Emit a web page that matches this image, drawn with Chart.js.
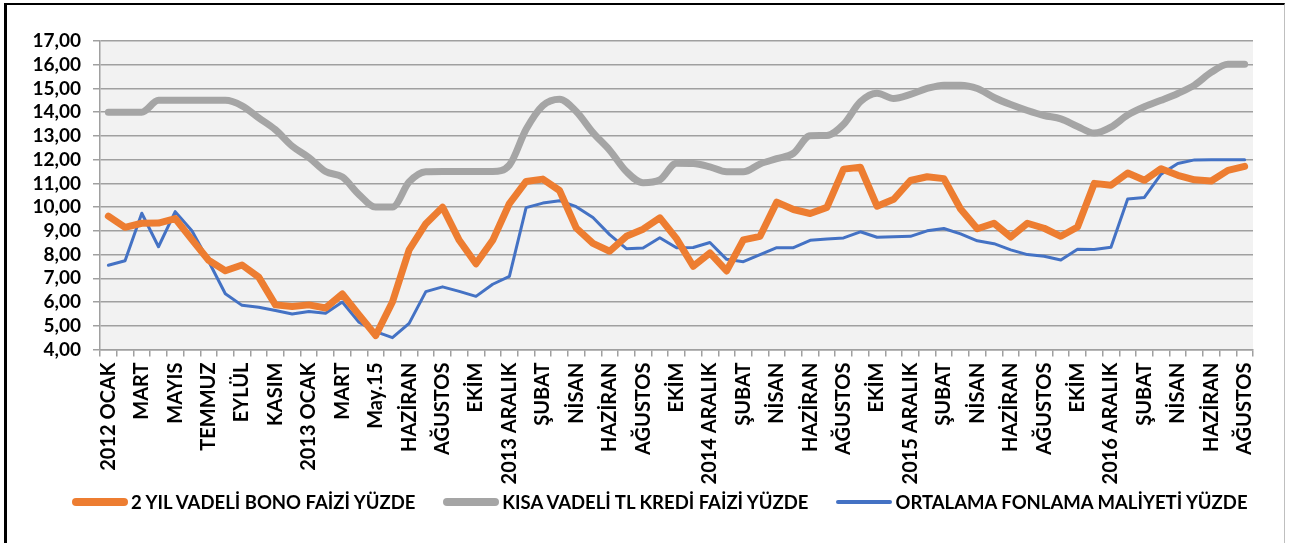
<!DOCTYPE html>
<html>
<head>
<meta charset="utf-8">
<script src="https://cdn.jsdelivr.net/npm/chart.js@4/dist/chart.umd.min.js"></script>
<style>
  html, body { margin: 0; padding: 0; background: #fff; }
  #wrap { position: relative; width: 1290px; height: 543px; overflow: hidden; background: #fff; }
  #frame { position: absolute; left: 4px; top: 3px; width: 1281px; height: 560px;
           border-left: 3px solid #000; border-top: 2px solid #000; border-right: 1px solid #bfbfbf; box-sizing: border-box; pointer-events: none; }
  canvas { position: absolute; left: 0; top: 0; }
  #legend { position: absolute; left: 72px; top: 490px; height: 24px; display: flex; align-items: center;
            font-family: Lato, "Open Sans", sans-serif; font-weight: bold; font-size: 18.5px; color: #000; white-space: nowrap; }
  .item { display: flex; align-items: center; margin-right: 28px; }
  .swatch { width: 56px; border-radius: 4px; margin-right: 3px; }
</style>
</head>
<body>
<div id="wrap">
  <canvas id="c" width="1290" height="543"></canvas>
  <div id="legend"></div>
  <div id="frame"></div>
</div>
<script>
const categories = [
  '2012 OCAK','ŞUBAT','MART','NİSAN','MAYIS','HAZİRAN','TEMMUZ','AĞUSTOS','EYLÜL','EKİM','KASIM','ARALIK',
  '2013 OCAK','ŞUBAT','MART','NİSAN','May.15','HAZİRAN','HAZİRAN','TEMMUZ','AĞUSTOS','EYLÜL','EKİM','KASIM',
  '2013 ARALIK','OCAK','ŞUBAT','MART','NİSAN','MAYIS','HAZİRAN','TEMMUZ','AĞUSTOS','EYLÜL','EKİM','KASIM',
  '2014 ARALIK','OCAK','ŞUBAT','MART','NİSAN','MAYIS','HAZİRAN','TEMMUZ','AĞUSTOS','EYLÜL','EKİM','KASIM',
  '2015 ARALIK','OCAK','ŞUBAT','MART','NİSAN','MAYIS','HAZİRAN','TEMMUZ','AĞUSTOS','EYLÜL','EKİM','KASIM',
  '2016 ARALIK','OCAK','ŞUBAT','MART','NİSAN','MAYIS','HAZİRAN','TEMMUZ','AĞUSTOS'
];

const bonoFaizi = [
  9.62,9.15,9.32,9.33,9.52,8.63,7.76,7.32,7.56,7.05,
  5.88,5.81,5.88,5.75,6.34,5.46,4.59,6.0,8.2,9.3,
  10.0,8.6,7.61,8.6,10.15,11.08,11.18,10.7,9.12,8.47,
  8.14,8.77,9.07,9.55,8.67,7.51,8.07,7.31,8.62,8.77,
  10.21,9.9,9.73,9.99,11.6,11.68,10.04,10.33,11.12,11.28,
  11.2,9.92,9.09,9.32,8.74,9.32,9.11,8.77,9.16,11.0,
  10.92,11.44,11.13,11.62,11.34,11.15,11.1,11.55,11.72
];

const krediFaizi = [
  14,14,14,14.5,14.5,14.5,14.5,14.5,14.27,13.76,
  13.26,12.57,12.09,11.5,11.27,10.53,10.0,10.0,11.06,11.49,
  11.5,11.5,11.5,11.5,11.77,13.28,14.28,14.55,14.03,13.14,
  12.4,11.5,11.03,11.15,11.85,11.84,11.7,11.49,11.49,11.82,
  12.04,12.27,13.01,13.02,13.49,14.44,14.8,14.58,14.75,15.0,
  15.14,15.14,15.0,14.62,14.32,14.07,13.86,13.72,13.4,13.12,
  13.37,13.88,14.23,14.5,14.79,15.14,15.68,16.02,16.02
];

const fonlamaMaliyeti = [
  7.55,7.74,9.74,8.33,9.81,9.0,7.72,6.35,5.86,5.78,
  5.64,5.5,5.6,5.53,6.0,5.15,4.75,4.5,5.1,6.44,
  6.64,6.45,6.24,6.75,7.08,9.98,10.17,10.27,10.02,9.56,
  8.84,8.25,8.28,8.71,8.29,8.3,8.51,7.8,7.7,8.0,
  8.29,8.29,8.6,8.66,8.7,8.96,8.73,8.75,8.77,9.0,
  9.1,8.87,8.58,8.46,8.2,8.0,7.93,7.77,8.22,8.21,
  8.31,10.34,10.41,11.39,11.84,11.99,12.0,12.0,12.0
];

const seriesNames = ['2 YIL VADELİ BONO FAİZİ YÜZDE','KISA VADELİ TL KREDİ FAİZİ YÜZDE','ORTALAMA FONLAMA MALİYETİ YÜZDE'];
const seriesColors = ['#ED7D31', '#A5A5A5', '#4472C4'];
const yMin = 4, yMax = 17, yStep = 1;

const GRID = '#a0a0a0';
const FONT_FAMILY = 'Lato, "Open Sans", sans-serif';

const plotBg = {
  id: 'plotBg',
  beforeDraw(chart) {
    const {ctx, chartArea: a} = chart;
    ctx.save();
    ctx.fillStyle = '#f2f2f2';
    ctx.fillRect(a.left, a.top, a.right - a.left, a.bottom - a.top);
    ctx.restore();
  }
};

const chart = new Chart(document.getElementById('c'), {
  type: 'line',
  data: {
    labels: categories,
    datasets: [
      { label: seriesNames[0], data: bonoFaizi, borderColor: seriesColors[0], backgroundColor: seriesColors[0],
        borderWidth: 7, pointRadius: 0, tension: 0, borderCapStyle: 'round', borderJoinStyle: 'round' },
      { label: seriesNames[1], data: krediFaizi, borderColor: seriesColors[1], backgroundColor: seriesColors[1],
        borderWidth: 7, pointRadius: 0, cubicInterpolationMode: 'monotone', borderCapStyle: 'round', borderJoinStyle: 'round' },
      { label: seriesNames[2], data: fonlamaMaliyeti, borderColor: seriesColors[2], backgroundColor: seriesColors[2],
        borderWidth: 3, pointRadius: 0, tension: 0, borderCapStyle: 'round', borderJoinStyle: 'round' }
    ]
  },
  options: {
    responsive: false,
    animation: false,
    layout: { padding: { left: 20, right: 37, top: 41, bottom: 0 } },
    plugins: {
      tooltip: { enabled: false },
      legend: { display: false }
    },
    scales: {
      x: {
        type: 'category',
        offset: true,
        grid: { offset: true, drawOnChartArea: false, drawTicks: true, tickLength: 7, color: GRID, lineWidth: 1.5 },
        border: { display: true, color: GRID, width: 1.5 },
        ticks: {
          autoSkip: false, minRotation: 90, maxRotation: 90, padding: 6, color: '#000',
          font: { family: FONT_FAMILY, size: 20, weight: 'bold' },
          callback: (v, i) => (i % 2 === 0 ? categories[i] : '')
        },
        afterFit: (s) => { s.height = 193.5; }
      },
      y: {
        min: yMin, max: yMax,
        grid: { color: GRID, lineWidth: 1.5, tickLength: 7 },
        border: { display: true, color: GRID, width: 1.5 },
        ticks: {
          stepSize: yStep, autoSkip: false, padding: 12, color: '#000',
          font: { family: FONT_FAMILY, size: 19, weight: 'bold' },
          callback: (v) => v.toFixed(2).replace('.', ',')
        },
        afterFit: (s) => { s.width = 80; }
      }
    }
  },
  plugins: [plotBg]
});

// HTML legend built from the chart's datasets
const legendEl = document.getElementById('legend');
chart.data.datasets.forEach((ds) => {
  const item = document.createElement('div');
  item.className = 'item';
  const sw = document.createElement('div');
  sw.className = 'swatch';
  sw.style.background = ds.borderColor;
  sw.style.height = (ds.borderWidth >= 5 ? 8 : 4) + 'px';
  const tx = document.createElement('span');
  tx.textContent = ds.label;
  item.appendChild(sw);
  item.appendChild(tx);
  legendEl.appendChild(item);
});
</script>
</body>
</html>
